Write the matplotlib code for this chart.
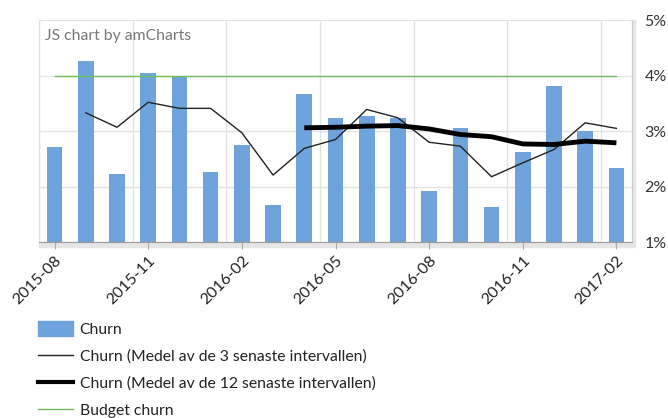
import matplotlib.pyplot as plt
import matplotlib.patches as mpatches
from matplotlib.lines import Line2D
import numpy as np

plt.rcParams['font.family'] = ['Lato', 'DejaVu Sans']

# monthly churn, in percent
months = ['2015-08', '2015-09', '2015-10', '2015-11', '2015-12', '2016-01',
          '2016-02', '2016-03', '2016-04', '2016-05', '2016-06', '2016-07',
          '2016-08', '2016-09', '2016-10', '2016-11', '2016-12', '2017-01',
          '2017-02']
churn = [2.72, 4.27, 2.23, 4.05, 3.99, 2.26, 2.75, 1.67, 3.66, 3.23,
         3.28, 3.23, 1.92, 3.05, 1.64, 2.62, 3.82, 3.00, 2.33]
# 3 month average, starts at 2015-09
avg3 = [None, 3.33, 3.07, 3.52, 3.41, 3.41, 2.97, 2.21, 2.69, 2.85,
        3.39, 3.24, 2.80, 2.73, 2.18, 2.43, 2.67, 3.15, 3.05]
# 12 month average, starts at 2016-04
avg12 = [None] * 8 + [3.06, 3.07, 3.09, 3.10, 3.04, 2.94, 2.90, 2.77,
                      2.76, 2.82, 2.79]
budget = [4.0] * len(months)

tick_months = ['2015-08', '2015-11', '2016-02', '2016-05', '2016-08',
               '2016-11', '2017-02']
y_ticks = [1, 2, 3, 4, 5]

x = np.arange(len(months))

fig = plt.figure(figsize=(6.68, 4.18), dpi=100)
ax = fig.add_axes([39 / 668, 1 - 242.3 / 418, (632 - 39) / 668, (242.3 - 20) / 418])

grid_c = '#e3e3e3'
# vertical grid at month boundaries, every 3 months
for m in tick_months:
    i = months.index(m)
    ax.axvline(i - 0.5, color=grid_c, lw=1, zorder=0)
for v in y_ticks[1:-1]:
    ax.axhline(v, color=grid_c, lw=1, zorder=0)

ax.bar(x, churn, width=0.5, bottom=0, color='#6fa3dc', zorder=2)

x3 = [i for i, v in enumerate(avg3) if v is not None]
ax.plot(x3, [avg3[i] for i in x3], color='#222222', lw=1, zorder=3)
x12 = [i for i, v in enumerate(avg12) if v is not None]
ax.plot(x12, [avg12[i] for i in x12], color='black', lw=3.5,
        solid_capstyle='butt', solid_joinstyle='round', zorder=4)
ax.plot(x, budget, color='#6cbf5a', lw=1, zorder=3)

ax.set_xlim(-0.5, len(months) - 0.5)
ax.set_ylim(1, 5)

ax.yaxis.tick_right()
ax.set_yticks(y_ticks)
ax.set_yticklabels(['%d%%' % v for v in y_ticks], fontsize=11.5, color='#333333')
ax.tick_params(axis='y', length=0, pad=9)

ax.set_xticks([months.index(m) for m in tick_months])
ax.set_xticklabels(tick_months, rotation=45, ha='right', rotation_mode='anchor',
                   fontsize=11.5, color='#222222')
ax.tick_params(axis='x', length=5, color='#aaaaaa', pad=3)

for s in ['top', 'left']:
    ax.spines[s].set_color(grid_c)
ax.spines['bottom'].set_color('#999999')
ax.spines['right'].set_color('#cccccc')

# light band under the x axis and right of the value axis
ax.add_patch(mpatches.Rectangle((0, -0.022), 1.005, 0.022, transform=ax.transAxes,
                                color='#e6e6e6', clip_on=False, zorder=1))
ax.add_patch(mpatches.Rectangle((1, 0), 0.005, 1, transform=ax.transAxes,
                                color='#e6e6e6', clip_on=False, zorder=1))

ax.text(0.01, 0.96, 'JS chart by amCharts', transform=ax.transAxes,
        fontsize=11.3, color='#777777', va='top', ha='left')

handles = [mpatches.Patch(color='#6fa3dc'),
           Line2D([], [], color='#222222', lw=1),
           Line2D([], [], color='black', lw=3),
           Line2D([], [], color='#6cbf5a', lw=1)]
labels = ['Churn', 'Churn (Medel av de 3 senaste intervallen)',
          'Churn (Medel av de 12 senaste intervallen)', 'Budget churn']
leg = fig.legend(handles, labels, loc='upper left',
                 bbox_to_anchor=(38 / 668, 1 - 321 / 418), frameon=False,
                 fontsize=11.3, handlelength=2.2, handleheight=1.1,
                 handletextpad=0.45, labelspacing=0.72, borderaxespad=0,
                 borderpad=0)
for t in leg.get_texts():
    t.set_color('#222222')

fig.savefig('out.png', dpi=100)
